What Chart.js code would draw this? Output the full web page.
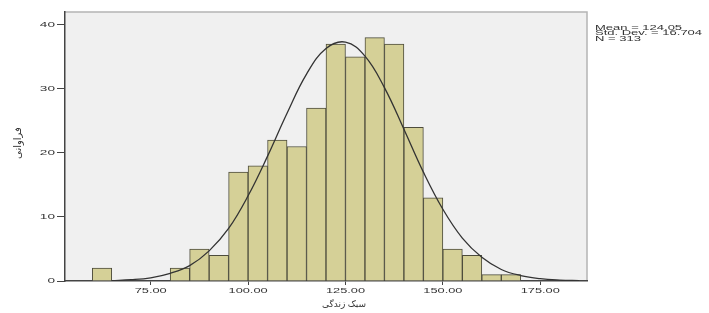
<!DOCTYPE html>
<html>
<head>
<meta charset="utf-8">
<script src="https://cdn.jsdelivr.net/npm/chart.js@4.4.0/dist/chart.umd.min.js"></script>
<style>
  html, body { margin: 0; padding: 0; background: #fff; }
  #wrap { width: 709px; height: 313px; }
</style>
</head>
<body>
<div id="wrap"><canvas id="chart" width="709" height="313"></canvas></div>
<script>
// histogram bins (centre of each 5-wide bin) and counts
const binCenters = [62.5, 82.5, 87.5, 92.5, 97.5, 102.5, 107.5, 112.5, 117.5, 122.5, 127.5,
                    132.5, 137.5, 142.5, 147.5, 152.5, 157.5, 162.5, 167.5];
const counts = [2, 2, 5, 4, 17, 18, 22, 21, 27, 37, 35, 38, 37, 24, 13, 5, 4, 1, 1];

// normal curve
const curveX = [65, 70, 75, 80, 85, 90, 95, 100, 105, 110, 115, 120, 125, 130, 135,
                140, 145, 150, 155, 160, 165, 170, 175, 180, 185];
const curveY = [0.07, 0.2, 0.5, 1.2, 2.4, 4.7, 8.2, 13.3, 19.5, 26.2, 32.3, 36.3, 37.3, 35.1, 30.2,
                23.7, 17.0, 11.2, 6.7, 3.7, 1.8, 0.85, 0.36, 0.14, 0.05];

const xTicks = [75, 100, 125, 150, 175];
const yTicks = [0, 10, 20, 30, 40];
const statsLines = ['Mean = 124.05', 'Std. Dev. = 16.704', 'N = 313'];

const FONT = '"Liberation Sans", Arial, sans-serif';

// draws text squeezed wide, like the stretched export in the reference
function wideText(ctx, txt, x, y, sx, align) {
  ctx.save();
  ctx.translate(x, y);
  ctx.scale(sx, 1);
  ctx.textAlign = align;
  ctx.fillText(txt, 0, 0);
  ctx.restore();
}

const plotBg = {
  id: 'plotBg',
  beforeDraw(chart) {
    const { ctx, chartArea: a } = chart;
    ctx.save();
    ctx.fillStyle = '#f0f0f0';
    ctx.fillRect(a.left, a.top, a.right - a.left, a.bottom - a.top);
    ctx.strokeStyle = '#b4b4b4';
    ctx.lineWidth = 1.5;
    ctx.beginPath();
    ctx.moveTo(a.left, a.top);
    ctx.lineTo(a.right, a.top);
    ctx.lineTo(a.right, a.bottom);
    ctx.stroke();
    ctx.restore();
  },
  afterDraw(chart) {
    const { ctx } = chart;
    const xs = chart.scales.x, ys = chart.scales.y;
    ctx.save();
    ctx.fillStyle = '#333';
    ctx.textBaseline = 'middle';
    ctx.font = '8px ' + FONT;
    xs.ticks.forEach(t => wideText(ctx, t.value.toFixed(2), xs.getPixelForValue(t.value), 291, 1.6, 'center'));
    ys.ticks.forEach(t => wideText(ctx, String(t.value), 55, ys.getPixelForValue(t.value), 1.7, 'right'));

    ctx.font = '6.5px ' + FONT;
    statsLines.forEach((t, i) => wideText(ctx, t, 595, 28 + i * 5.5, 2.0, 'left'));

    ctx.font = '9px "Noto Sans", "DejaVu Sans", sans-serif';
    ctx.textAlign = 'center';
    ctx.fillText('سبک زندگی', 344, 304);
    ctx.translate(18, 143);
    ctx.rotate(-Math.PI / 2);
    ctx.font = '10px "Noto Sans", "DejaVu Sans", sans-serif';
    ctx.fillText('فراوانی', 0, 0);
    ctx.restore();
  }
};

new Chart(document.getElementById('chart'), {
  type: 'bar',
  data: {
    datasets: [
      {
        type: 'line',
        data: curveX.map((x, i) => ({ x: x, y: curveY[i] })),
        borderColor: '#333',
        borderWidth: 1.3,
        pointRadius: 0,
        tension: 0.4,
        fill: false
      },
      {
        type: 'bar',
        data: binCenters.map((x, i) => ({ x: x, y: counts[i] })),
        backgroundColor: '#d5d097',
        borderColor: '#4d4c3c',
        borderWidth: 1,
        barPercentage: 1,
        categoryPercentage: 1
      }
    ]
  },
  options: {
    responsive: false,
    animation: false,
    layout: { padding: { left: 0, right: 122, top: 12, bottom: 0 } },
    plugins: { legend: { display: false }, tooltip: { enabled: false } },
    scales: {
      x: {
        type: 'linear',
        min: 53,
        max: 187,
        offset: false,
        afterBuildTicks: s => { s.ticks = xTicks.map(v => ({ value: v })); },
        afterFit: s => { s.height = 32; },
        grid: { offset: false, drawOnChartArea: false, tickLength: 4, color: '#444' },
        border: { color: '#444', width: 1.5 },
        ticks: { color: 'rgba(0,0,0,0)', font: { size: 8 } }
      },
      y: {
        min: 0,
        max: 42,
        afterBuildTicks: s => { s.ticks = yTicks.map(v => ({ value: v })); },
        afterFit: s => { s.width = 65; },
        grid: { drawOnChartArea: false, tickLength: 8, color: '#444' },
        border: { color: '#444', width: 1.5 },
        ticks: { color: 'rgba(0,0,0,0)', font: { size: 8 } }
      }
    }
  },
  plugins: [plotBg]
});
</script>
</body>
</html>
